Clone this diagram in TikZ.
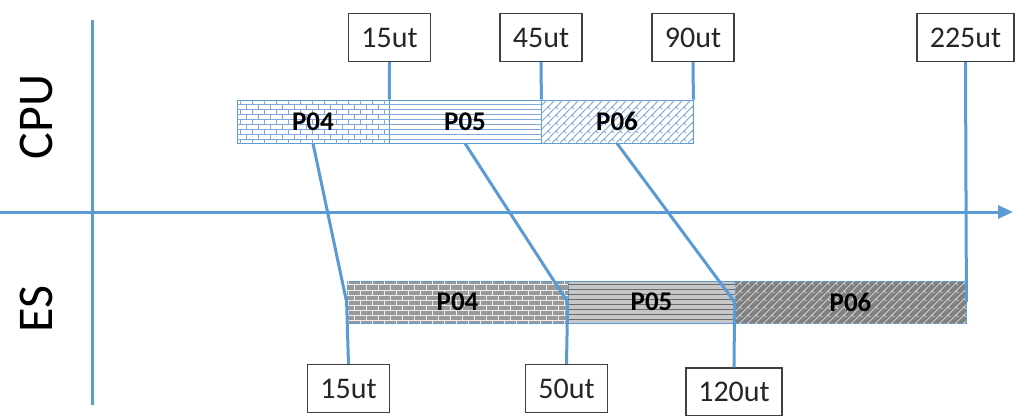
\documentclass[tikz,border=0pt]{standalone}
\usepackage{fontspec}
\setmainfont{Carlito}
\usetikzlibrary{patterns,patterns.meta,arrows.meta}
\pgfdeclarepatternformonly{tinybricks}{\pgfqpoint{-0.5pt}{-0.5pt}}{\pgfqpoint{12.5pt}{10.5pt}}{\pgfqpoint{12pt}{10pt}}{%
  \pgfsetlinewidth{1pt}%
  \pgfpathmoveto{\pgfqpoint{0pt}{0pt}}\pgfpathlineto{\pgfqpoint{12pt}{0pt}}%
  \pgfpathmoveto{\pgfqpoint{0pt}{5pt}}\pgfpathlineto{\pgfqpoint{12pt}{5pt}}%
  \pgfpathmoveto{\pgfqpoint{0pt}{0pt}}\pgfpathlineto{\pgfqpoint{0pt}{5pt}}%
  \pgfpathmoveto{\pgfqpoint{6pt}{5pt}}\pgfpathlineto{\pgfqpoint{6pt}{10pt}}%
  \pgfusepath{stroke}}
\pgfdeclarepatternformonly{diagbricks}{\pgfqpoint{-0.5pt}{-0.5pt}}{\pgfqpoint{8.5pt}{8.5pt}}{\pgfqpoint{8pt}{8pt}}{%
  \pgfsetlinewidth{1pt}%
  \pgfpathmoveto{\pgfqpoint{0pt}{0pt}}\pgfpathlineto{\pgfqpoint{8pt}{8pt}}%
  \pgfpathmoveto{\pgfqpoint{4pt}{4pt}}\pgfpathlineto{\pgfqpoint{6pt}{2pt}}%
  \pgfusepath{stroke}}
\pgfdeclarepatternformonly{hstripes}{\pgfqpoint{0pt}{-1pt}}{\pgfqpoint{5pt}{4pt}}{\pgfqpoint{5pt}{5pt}}{%
  \pgfpathrectangle{\pgfqpoint{0pt}{0pt}}{\pgfqpoint{5pt}{1.4pt}}%
  \pgfusepath{fill}}
\definecolor{axisblue}{HTML}{5B9BD5}
\definecolor{patblue}{HTML}{7FA9DD}
\definecolor{boxgray}{HTML}{404040}
\tikzset{
  axisline/.style={draw=axisblue, line width=3pt},
  conn/.style={draw=axisblue, line width=3pt},
  bar/.style={draw=axisblue, line width=0.8pt, inner sep=0pt},
  cpubar/.style={bar, minimum height=43pt},
  esbar/.style={bar, minimum height=42pt},
  barlabel/.style={font=\fontsize{27}{29}\selectfont\bfseries, text=black},
  timebox/.style={draw=boxgray, line width=1.3pt, fill=white, minimum width=82pt, minimum height=48pt, inner sep=0pt, text=black!85, font=\fontsize{30}{32}\selectfont},
  axislabel/.style={rotate=90, font=\fontsize{50}{52}\selectfont, text=black}
}
\begin{document}
\begin{tikzpicture}[x=1pt,y=-1pt]
\useasboundingbox (0,0) rectangle (1024,415);
% axes
\coordinate (vtop) at (92,20);
\coordinate (vbot) at (92,405);
\coordinate (hl) at (0,212);
\coordinate (hr) at (1013,212);
\draw[axisline] (vtop) -- (vbot);
\draw[axisline, -{Triangle[length=15pt,width=13pt]}] (hl) -- (hr);
\node[axislabel] (lcpu) at (36,117) {CPU};
\node[axislabel] (les) at (36,309) {ES};
% CPU bars
\node[cpubar, minimum width=152pt, fill=white, postaction={pattern=tinybricks, pattern color=patblue}] (cpu4) at (313,121.5) {};
\node[cpubar, minimum width=152pt, fill=white, postaction={pattern=hstripes, pattern color=patblue}] (cpu5) at (465,121.5) {};
\node[cpubar, minimum width=152pt, fill=white, postaction={pattern=diagbricks, pattern color=patblue}] (cpu6) at (617,121.5) {};
\node[barlabel] (lcpu4) at (cpu4) {P04};
\node[barlabel] (lcpu5) at (cpu5) {P05};
\node[barlabel] (lcpu6) at (cpu6) {P06};
% ES bars
\node[esbar, minimum width=221pt, fill=black!40, postaction={pattern=tinybricks, pattern color=black!8}] (es4) at (457.5,302) {};
\node[esbar, minimum width=167pt, fill=black!22, postaction={pattern=hstripes, pattern color=black!58}] (es5) at (651.5,302) {};
\node[esbar, minimum width=231pt, fill=black!50, postaction={pattern=diagbricks, pattern color=black!20}] (es6) at (850.5,302) {};
\node[barlabel] (les4) at (es4) {P04};
\node[barlabel] (les5) at (es5) {P05};
\node[barlabel] (les6) at (es6) {P06};
% top time boxes
\node[timebox] (t15) at (389.5,37.5) {15ut};
\node[timebox] (t45) at (541,37.5) {45ut};
\node[timebox] (t90) at (693,37.5) {90ut};
\node[timebox, minimum width=97pt] (t225) at (965.5,37.5) {225ut};
% bottom time boxes
\node[timebox] (b15) at (348.5,388.5) {15ut};
\node[timebox] (b50) at (566.5,388.5) {50ut};
\node[timebox, minimum width=96pt] (b120) at (734,392) {120ut};
% connectors
\draw[conn] (t15.south) -- (cpu4.north east);
\draw[conn] (t45.south) -- (cpu5.north east);
\draw[conn] (t90.south) -- (cpu6.north east);
\draw[conn] (t225.south) -- (es6.east);
\draw[conn] (cpu4.south) -- (es4.west) -- (b15.north);
\draw[conn] (cpu5.south) -- (es5.west) -- (b50.north);
\draw[conn] (cpu6.south) -- (es6.west) -- (b120.north);
\end{tikzpicture}
\end{document}
